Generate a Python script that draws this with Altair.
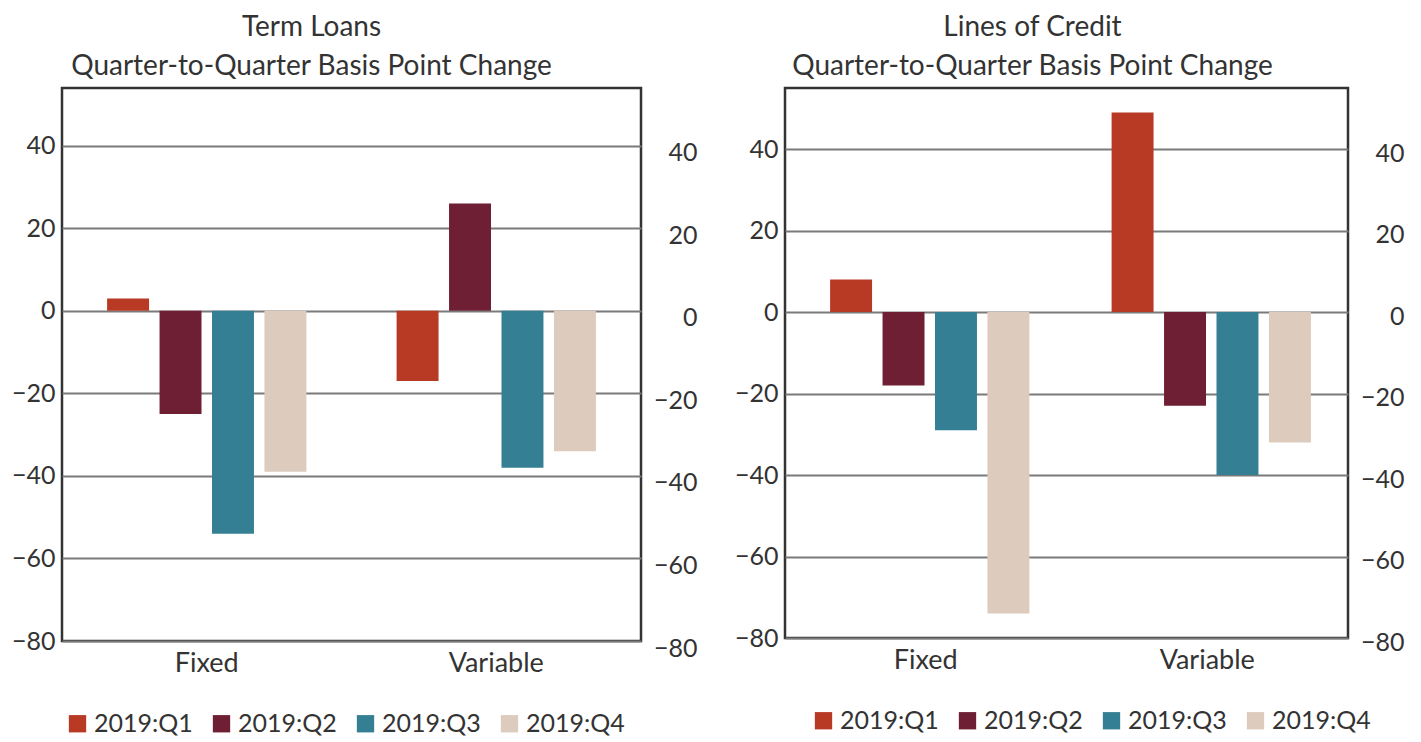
import altair as alt
import pandas as pd

groups = ["Fixed", "Variable"]
quarters = ["2019:Q1", "2019:Q2", "2019:Q3", "2019:Q4"]
term_fixed = [3, -25, -54, -39]
term_variable = [-17, 26, -38, -34]
credit_fixed = [8, -18, -29, -74]
credit_variable = [49, -23, -40, -32]
colors = ["#B83A25", "#6E1F33", "#347F93", "#DDCBBE"]
y_ticks = [-80, -60, -40, -20, 0, 20, 40]

FONT = "Lato"
TXT = "#333333"


def make_df(fixed, variable):
    rows = []
    for g, vals in zip(groups, [fixed, variable]):
        for q, v in zip(quarters, vals):
            rows.append({"group": g, "quarter": q, "value": v})
    return pd.DataFrame(rows)


def panel(df, title_lines, width, height, ymax, right_offset, title_dx, legend_x):
    yscale = alt.Scale(domain=[-80, ymax], nice=False)
    xenc = alt.X("group:N", sort=groups,
                 scale=alt.Scale(paddingInner=0, paddingOuter=0),
                 axis=alt.Axis(title=None, labelAngle=0, ticks=False, domain=False,
                               labelPadding=9, labelFontSize=27, labelFont=FONT,
                               labelColor=TXT))
    xoff = alt.XOffset("quarter:N", sort=quarters,
                       scale=alt.Scale(paddingInner=0.2, paddingOuter=0.86))
    bars = alt.Chart(df).mark_bar().encode(
        x=xenc,
        xOffset=xoff,
        y=alt.Y("value:Q", scale=yscale,
                axis=alt.Axis(values=y_ticks, title=None, orient="left", grid=True,
                              gridColor="#7a7a7a", gridWidth=2, ticks=False, domain=False,
                              labelPadding=7, labelFontSize=25, labelFont=FONT,
                              labelColor=TXT)),
        color=alt.Color("quarter:N", sort=quarters,
                        scale=alt.Scale(domain=quarters, range=colors),
                        legend=alt.Legend(title=None, orient="none", direction="horizontal",
                                          legendX=legend_x, legendY=height + 70,
                                          symbolType="square", symbolSize=300,
                                          symbolStrokeWidth=0, symbolOpacity=1,
                                          labelFontSize=25, labelFont=FONT,
                                          labelColor=TXT, labelOffset=4,
                                          columnPadding=16)),
    )
    right = alt.Chart(df).mark_bar(opacity=0).encode(
        x=xenc,
        xOffset=xoff,
        y=alt.Y("value:Q", scale=yscale,
                axis=alt.Axis(values=y_ticks, title=None, orient="right", grid=False,
                              ticks=False, domain=False, labelAlign="right",
                              labelPadding=56, labelOffset=right_offset,
                              labelFontSize=25, labelFont=FONT, labelColor=TXT)),
    )
    return alt.layer(bars, right).resolve_axis(y="independent").properties(
        width=width, height=height,
        title=alt.Title(title_lines, fontSize=28, font=FONT, fontWeight="normal",
                        color=TXT, anchor="middle", dx=title_dx, lineHeight=39,
                        offset=7),
    )


left = panel(make_df(term_fixed, term_variable),
             ["Term Loans", "Quarter-to-Quarter Basis Point Change"],
             579, 553, 54, 7, -40, 3)
rightp = panel(make_df(credit_fixed, credit_variable),
               ["Lines of Credit", "Quarter-to-Quarter Basis Point Change"],
               563, 550, 55, 4, -34, 26)

chart = alt.hconcat(left, rightp, spacing=34).resolve_scale(color="independent").properties(
    padding={"left": 2, "top": 4, "right": 2, "bottom": 0},
    background="white",
).configure_view(stroke="#333333", strokeWidth=2.5)

chart.save("out.html", embed_options={"renderer": "svg", "actions": False})
